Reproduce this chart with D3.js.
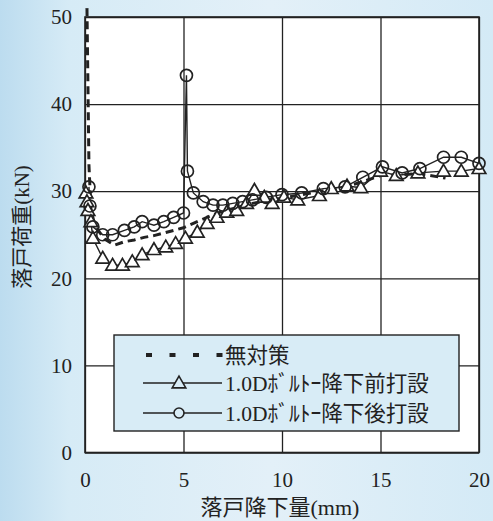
<!DOCTYPE html>
<html>
<head>
<meta charset="utf-8">
<script src="https://cdn.jsdelivr.net/npm/d3@7"></script>
<style>
  body { margin: 0; }
  svg { display: block; }
  text { font-family: "Liberation Serif", "DejaVu Serif", "Noto Sans CJK JP", serif; fill: #222; }
</style>
</head>
<body>
<div id="chart"></div>
<script>
// Series: 無対策 (dashed, no markers)
let noneX = [0.1, 0.15, 0.2, 0.3, 0.5, 1.0, 1.5, 2.0, 2.5, 3.0, 3.5, 4.0, 4.5, 5.0, 5.5, 6.0, 6.5, 7.0, 7.5, 8.0, 8.5, 9.0, 10.0, 11.0, 12.0, 13.0, 14.0, 15.0, 16.0, 17.0, 18.3];
let noneY = [51, 42, 33, 28, 26, 24.5, 23.8, 24.2, 24.4, 24.7, 24.9, 25.2, 25.5, 25.8, 26.3, 26.8, 27.3, 27.7, 28.0, 28.3, 28.6, 28.8, 29.2, 29.6, 30.0, 30.4, 31.0, 31.8, 31.9, 32.0, 31.5];

// Series: 1.0Dボルト降下前打設 (triangles)
let beforeX = [0.05, 0.1, 0.15, 0.3, 0.4, 0.9, 1.4, 1.9, 2.4, 2.9, 3.5, 4.1, 4.6, 5.1, 5.7, 6.2, 6.7, 7.2, 7.7, 8.2, 8.6, 9.1, 9.5, 10.1, 10.8, 11.9, 12.5, 13.3, 14.0, 15.0, 15.8, 16.9, 18.2, 19.1, 20.0];
let beforeY = [29.8, 28.8, 27.8, 26.5, 24.6, 22.3, 21.5, 21.5, 21.9, 22.7, 23.3, 23.6, 24.0, 24.6, 25.3, 26.3, 27.0, 27.6, 27.8, 28.6, 30.1, 29.3, 28.6, 29.3, 29.0, 29.5, 30.3, 30.6, 30.4, 32.3, 31.8, 32.1, 32.3, 32.3, 32.6];

// Series: 1.0Dボルト降下後打設 (circles)
let afterX = [0.2, 0.25, 0.4, 0.9, 1.4, 2.0, 2.5, 2.9, 3.5, 4.0, 4.5, 5.0, 5.15, 5.2, 5.5, 6.0, 6.5, 7.0, 7.5, 8.0, 8.5, 9.2, 10.0, 11.0, 12.1, 13.2, 14.1, 15.1, 16.1, 17.0, 18.2, 19.1, 20.0];
let afterY = [30.5, 28.3, 25.9, 25.0, 25.0, 25.5, 25.9, 26.5, 26.1, 26.5, 27.0, 27.5, 43.3, 32.3, 29.8, 28.8, 28.4, 28.4, 28.6, 28.8, 29.0, 29.3, 29.6, 29.8, 30.3, 30.5, 31.6, 32.8, 32.1, 32.6, 33.9, 33.9, 33.2];

let xTicks = [0, 5, 10, 15, 20];
let yTicks = [0, 10, 20, 30, 40, 50];
let legendLabels = ['無対策', '1.0Dﾎﾞﾙﾄｰ降下前打設', '1.0Dﾎﾞﾙﾄｰ降下後打設'];

let W = 493, H = 521;
let margin = {left: 85, top: 17, right: 14, bottom: 68.5};
let width = W - margin.left - margin.right,
    height = H - margin.top - margin.bottom;

let x = d3.scaleLinear().domain([0, 20]).range([0, width]);
let y = d3.scaleLinear().domain([0, 50]).range([height, 0]);

let svg = d3.select('#chart').append('svg')
  .attr('width', W)
  .attr('height', H);

// scanned-paper background
let defs = svg.append('defs');
let grad = defs.append('linearGradient').attr('id', 'bg').attr('x1', 0).attr('x2', 1).attr('y1', 0).attr('y2', 0);
grad.append('stop').attr('offset', '0%').attr('stop-color', '#bcdcef');
grad.append('stop').attr('offset', '14%').attr('stop-color', '#d6ebf6');
grad.append('stop').attr('offset', '55%').attr('stop-color', '#e3f0f8');
grad.append('stop').attr('offset', '100%').attr('stop-color', '#d4eaf6');
svg.append('rect').attr('width', W).attr('height', H).attr('fill', 'url(#bg)');

let g = svg.append('g').attr('transform', `translate(${margin.left},${margin.top})`);

g.append('rect').attr('width', width).attr('height', height).attr('fill', '#fff');

// grid
g.append('g')
  .call(d3.axisBottom(x).tickValues(xTicks).tickSize(-height).tickFormat(''))
  .attr('transform', `translate(0,${height})`)
  .call(a => a.select('.domain').remove())
  .selectAll('line').attr('stroke', '#222').attr('stroke-width', 1.3);
g.append('g')
  .call(d3.axisLeft(y).tickValues(yTicks).tickSize(-width).tickFormat(''))
  .call(a => a.select('.domain').remove())
  .selectAll('line').attr('stroke', '#222').attr('stroke-width', 1.3);

g.append('rect').attr('width', width).attr('height', height)
  .attr('fill', 'none').attr('stroke', '#222').attr('stroke-width', 1.6);

// tick labels
g.append('g')
  .attr('transform', `translate(0,${height})`)
  .call(d3.axisBottom(x).tickValues(xTicks).tickSize(0).tickPadding(20))
  .call(a => a.select('.domain').remove())
  .selectAll('text').attr('font-size', 21).attr('font-family', '"Liberation Serif", serif').attr('fill', '#222');
g.append('g')
  .call(d3.axisLeft(y).tickValues(yTicks).tickSize(0).tickPadding(13))
  .call(a => a.select('.domain').remove())
  .selectAll('text').attr('font-size', 21).attr('font-family', '"Liberation Serif", serif').attr('fill', '#222');

// axis titles
svg.append('text')
  .attr('x', margin.left + width / 2 - 2).attr('y', 515)
  .attr('text-anchor', 'middle').attr('font-size', 22)
  .text('落戸降下量(mm)');
svg.append('text')
  .attr('transform', 'translate(29,227) rotate(-90)')
  .attr('text-anchor', 'middle').attr('font-size', 21)
  .text('落戸荷重(kN)');

let line = d3.line().x(d => x(d[0])).y(d => y(d[1]));

let none = noneX.map((v, i) => [v, noneY[i]]);
let before = beforeX.map((v, i) => [v, beforeY[i]]);
let after = afterX.map((v, i) => [v, afterY[i]]);

g.append('line')
  .attr('x1', x(0.1)).attr('x2', x(0.1)).attr('y1', -9).attr('y2', y(51))
  .attr('stroke', '#222').attr('stroke-width', 3).attr('stroke-dasharray', '8,5');

g.append('path').datum(none)
  .attr('d', line).attr('fill', 'none')
  .attr('stroke', '#222').attr('stroke-width', 3).attr('stroke-dasharray', '8,5');

g.append('path').datum(before)
  .attr('d', line).attr('fill', 'none').attr('stroke', '#222').attr('stroke-width', 1.4);
g.append('path').datum(after)
  .attr('d', line).attr('fill', 'none').attr('stroke', '#222').attr('stroke-width', 1.4);

let tri = d3.symbol().type(d3.symbolTriangle).size(80);
g.selectAll('.tri').data(before).join('path')
  .attr('class', 'tri')
  .attr('d', tri)
  .attr('transform', d => `translate(${x(d[0])},${y(d[1]) + 1})`)
  .attr('fill', '#fff').attr('stroke', '#222').attr('stroke-width', 1.7);

g.selectAll('.circ').data(after).join('circle')
  .attr('class', 'circ')
  .attr('cx', d => x(d[0])).attr('cy', d => y(d[1])).attr('r', 6)
  .attr('fill', 'none').attr('stroke', '#222').attr('stroke-width', 1.7);

// legend
let lg = svg.append('g').attr('transform', 'translate(114,335)');
lg.append('rect').attr('width', 345).attr('height', 96)
  .attr('fill', '#d8ecf6').attr('stroke', '#222').attr('stroke-width', 1.4);

let rows = [20, 48, 78];
// legend sample for the dashed series: four short thick dashes
lg.selectAll('.dash').data([0, 1, 2, 3]).join('rect')
  .attr('class', 'dash')
  .attr('x', d => 32 + d * 23.5).attr('y', rows[0] - 2)
  .attr('width', 6).attr('height', 4)
  .attr('fill', '#222');
lg.append('line').attr('x1', 29).attr('x2', 108).attr('y1', rows[1]).attr('y2', rows[1])
  .attr('stroke', '#222').attr('stroke-width', 1.4);
lg.append('path').attr('d', tri)
  .attr('transform', `translate(65,${rows[1] + 1})`)
  .attr('fill', '#d8ecf6').attr('stroke', '#222').attr('stroke-width', 1.6);
lg.append('line').attr('x1', 29).attr('x2', 108).attr('y1', rows[2]).attr('y2', rows[2])
  .attr('stroke', '#222').attr('stroke-width', 1.4);
lg.append('circle').attr('cx', 65).attr('cy', rows[2]).attr('r', 5)
  .attr('fill', '#d8ecf6').attr('stroke', '#222').attr('stroke-width', 1.6);

lg.selectAll('.lab').data(legendLabels).join('text')
  .attr('class', 'lab')
  .attr('x', 111).attr('y', (d, i) => rows[i] + 8)
  .attr('font-size', 21.5)
  .text(d => d);
</script>
</body>
</html>
